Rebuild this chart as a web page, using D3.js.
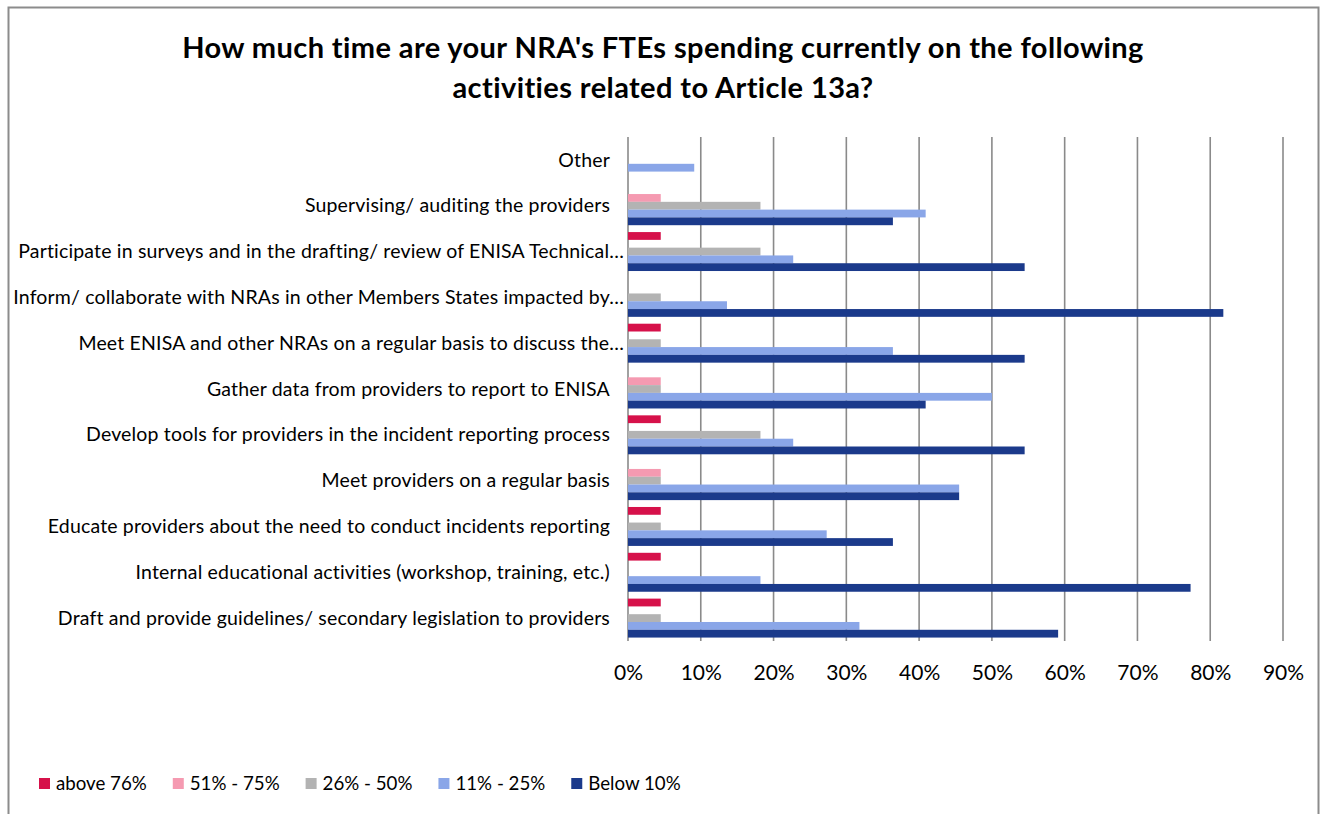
<!DOCTYPE html>
<html>
<head>
<meta charset="utf-8">
<script src="https://cdn.jsdelivr.net/npm/d3@7"></script>
<style>
  html, body { margin: 0; padding: 0; background: #fff; }
  svg { display: block; font-family: Lato, "Open Sans", sans-serif; }
</style>
</head>
<body>
<svg id="chart" width="1325" height="814"></svg>
<script>
// Activities, listed top to bottom as they appear on the chart
const categories = [
  "Other",
  "Supervising/ auditing the providers",
  "Participate in surveys and in the drafting/ review of ENISA Technical…",
  "Inform/ collaborate with NRAs in other Members States impacted by…",
  "Meet ENISA and other NRAs on a regular basis to discuss the…",
  "Gather data from providers to report to ENISA",
  "Develop tools for providers in the incident reporting process",
  "Meet providers on a regular basis",
  "Educate providers about the need to conduct incidents reporting",
  "Internal educational activities (workshop, training, etc.)",
  "Draft and provide guidelines/ secondary legislation to providers"
];

// Share of respondents (%) per time bracket, in category order above
const seriesNames = ["above 76%", "51% - 75%", "26% - 50%", "11% - 25%", "Below 10%"];
const above76   = [0,   0,    4.5,  0,    4.5,  0,    4.5,  0,    4.5,  4.5,  4.5];
const from51    = [0,   4.5,  0,    0,    0,    4.5,  0,    4.5,  0,    0,    0];
const from26    = [0,   18.2, 18.2, 4.5,  4.5,  4.5,  18.2, 4.5,  4.5,  0,    4.5];
const from11    = [9.1, 40.9, 22.7, 13.6, 36.4, 50.0, 22.7, 45.5, 27.3, 18.2, 31.8];
const below10   = [0,   36.4, 54.5, 81.8, 54.5, 40.9, 54.5, 45.5, 36.4, 77.3, 59.1];
const seriesValues = [above76, from51, from26, from11, below10];
const seriesColors = ["#d6114a", "#f59ab1", "#b3b3b3", "#8aa6e8", "#1b3a8b"];

const tickValues = [0, 10, 20, 30, 40, 50, 60, 70, 80, 90];

const titleLines = [
  "How much time are your NRA's FTEs spending currently on the following",
  "activities related to Article 13a?"
];

const svg = d3.select("#chart");

// chart frame
svg.append("rect")
  .attr("x", 8.5).attr("y", 7.5)
  .attr("width", 1310).attr("height", 830)
  .attr("fill", "#fff")
  .attr("stroke", "#8c8c8c")
  .attr("stroke-width", 2);

// title
svg.append("g")
  .selectAll("text")
  .data(titleLines)
  .join("text")
  .attr("x", 663)
  .attr("y", (d, i) => 58 + i * 40)
  .attr("text-anchor", "middle")
  .attr("font-size", 29)
  .attr("letter-spacing", 0.4)
  .attr("font-weight", "bold")
  .attr("fill", "#000")
  .text(d => d);

// scales
const plot = { left: 628, right: 1283, top: 137, bottom: 641 };
const x = d3.scaleLinear().domain([0, 90]).range([plot.left, plot.right]);
const y0 = d3.scaleBand().domain(categories).range([plot.top, plot.bottom]).padding(0);
const groupPad = (y0.bandwidth() * 0.15) / 2;
const y1 = d3.scaleBand().domain(seriesNames)
  .range([groupPad, y0.bandwidth() - groupPad]).padding(0);

// vertical gridlines
svg.append("g")
  .selectAll("line")
  .data(tickValues)
  .join("line")
  .attr("x1", d => x(d)).attr("x2", d => x(d))
  .attr("y1", plot.top).attr("y2", plot.bottom)
  .attr("stroke", "#8a8a8a")
  .attr("stroke-width", 1.6);

// x axis tick labels
const xAxis = d3.axisBottom(x)
  .tickValues(tickValues)
  .tickFormat(d => d + "%")
  .tickSize(0)
  .tickPadding(0);
const gx = svg.append("g")
  .attr("transform", `translate(0,${plot.bottom + 39})`)
  .call(xAxis);
gx.select(".domain").remove();
gx.selectAll("text")
  .attr("font-size", 21)
  .attr("font-family", "Lato, 'Open Sans', sans-serif")
  .attr("fill", "#000")
  .attr("dy", 0);

// category labels
const yAxis = d3.axisLeft(y0).tickSize(0).tickPadding(0);
const gy = svg.append("g")
  .attr("transform", `translate(610,0)`)
  .call(yAxis);
gy.select(".domain").remove();
gy.selectAll("text")
  .attr("font-size", 19.5)
  .attr("letter-spacing", 0.17)
  .attr("font-family", "Lato, 'Open Sans', sans-serif")
  .attr("fill", "#000")
  .attr("dy", "0.34em")
  .attr("x", d => d.endsWith("…") ? 14 : 0);

// bars
const rows = [];
seriesNames.forEach((s, si) => {
  categories.forEach((c, ci) => {
    rows.push({ series: s, category: c, value: seriesValues[si][ci], color: seriesColors[si] });
  });
});
svg.append("g")
  .selectAll("rect")
  .data(rows.filter(d => d.value > 0))
  .join("rect")
  .attr("x", x(0))
  .attr("y", d => y0(d.category) + y1(d.series))
  .attr("width", d => x(d.value) - x(0))
  .attr("height", y1.bandwidth())
  .attr("fill", d => d.color);

// legend
const legend = svg.append("g").attr("transform", "translate(39,784)");
let lx = 0;
seriesNames.forEach((s, i) => {
  const item = legend.append("g").attr("transform", `translate(${lx},0)`);
  item.append("rect")
    .attr("x", 0).attr("y", -6)
    .attr("width", 11).attr("height", 11)
    .attr("fill", seriesColors[i]);
  const t = item.append("text")
    .attr("x", 17)
    .attr("dy", "0.34em")
    .attr("font-size", 18.7)
    .attr("fill", "#000")
    .text(s);
  lx += 17 + t.node().getComputedTextLength() + 26;
});
</script>
</body>
</html>
